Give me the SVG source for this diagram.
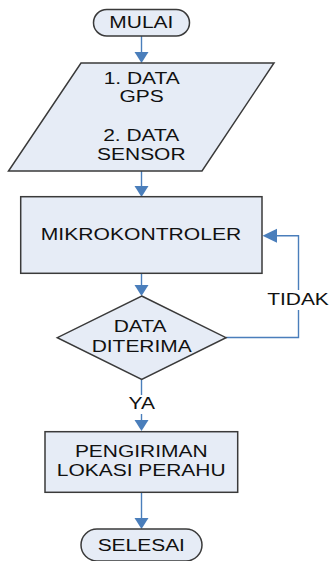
<svg xmlns="http://www.w3.org/2000/svg" width="329" height="561" viewBox="0 0 329 561">
<defs>
<style>
.n{fill:#e6ecf6;stroke:#3a3a3a;stroke-width:1.5}
.t{font-family:"Liberation Sans",Arial,sans-serif;font-size:16px;fill:#111;text-anchor:middle}
.c{fill:none;stroke:#4a7ebb;stroke-width:1.4}
.h{fill:#4a7ebb}
</style>
</defs>
<rect width="329" height="561" fill="#fff"/>
<g id="connectors">
<line class="c" x1="141.5" y1="36" x2="141.5" y2="53"/>
<path class="h" d="M134.5,52 L148.5,52 L141.5,63 Z"/>
<line class="c" x1="141.5" y1="171" x2="141.5" y2="187"/>
<path class="h" d="M134.5,186 L148.5,186 L141.5,197 Z"/>
<line class="c" x1="141.5" y1="273" x2="141.5" y2="286"/>
<path class="h" d="M134.5,285 L148.5,285 L141.5,296 Z"/>
<polyline class="c" points="226,337.5 298.5,337.5 298.5,235.7 276,235.7"/>
<path class="h" d="M277,228.7 L277,242.7 L262.5,235.7 Z"/>
<line class="c" x1="141.5" y1="379" x2="141.5" y2="395"/>
<line class="c" x1="141.5" y1="414" x2="141.5" y2="421"/>
<path class="h" d="M134.5,420 L148.5,420 L141.5,431 Z"/>
<line class="c" x1="141.5" y1="492" x2="141.5" y2="519"/>
<path class="h" d="M134.5,518 L148.5,518 L141.5,529 Z"/>
<rect x="266" y="290" width="63" height="20" fill="#fff"/>
<text class="t" transform="translate(298,305) scale(1.31,1)">TIDAK</text>
<text class="t" transform="translate(141.7,409.3) scale(1.31,1)">YA</text>
</g>
<g id="mulai">
<rect class="n" x="93.5" y="9.5" width="96" height="26.5" rx="13.25"/>
<text class="t" transform="translate(141.3,28.3) scale(1.31,1)">MULAI</text>
</g>
<g id="data-input">
<polygon class="n" points="81,63 274,63 202,171 8.5,171"/>
<text class="t" transform="translate(141.7,84) scale(1.31,1)">1. DATA</text>
<text class="t" transform="translate(141.7,102) scale(1.31,1)">GPS</text>
<text class="t" transform="translate(141.2,141) scale(1.31,1)">2. DATA</text>
<text class="t" transform="translate(141.3,160) scale(1.31,1)">SENSOR</text>
</g>
<g id="mikrokontroler">
<rect class="n" x="20.7" y="196.7" width="241.3" height="76.6"/>
<text class="t" transform="translate(141,240) scale(1.32,1)">MIKROKONTROLER</text>
</g>
<g id="data-diterima">
<polygon class="n" points="141.7,296 226,337.7 141.7,379.3 57.3,337.7"/>
<text class="t" transform="translate(140,331.7) scale(1.31,1)">DATA</text>
<text class="t" transform="translate(141.7,351.7) scale(1.31,1)">DITERIMA</text>
</g>
<g id="pengiriman">
<rect class="n" x="45" y="431.7" width="192.7" height="60.6"/>
<text class="t" transform="translate(141.2,456.7) scale(1.31,1)">PENGIRIMAN</text>
<text class="t" transform="translate(141.2,476) scale(1.31,1)">LOKASI PERAHU</text>
</g>
<g id="selesai">
<rect class="n" x="81" y="529" width="121" height="32" rx="16"/>
<text class="t" transform="translate(141.3,550.7) scale(1.31,1)">SELESAI</text>
</g>
</svg>
